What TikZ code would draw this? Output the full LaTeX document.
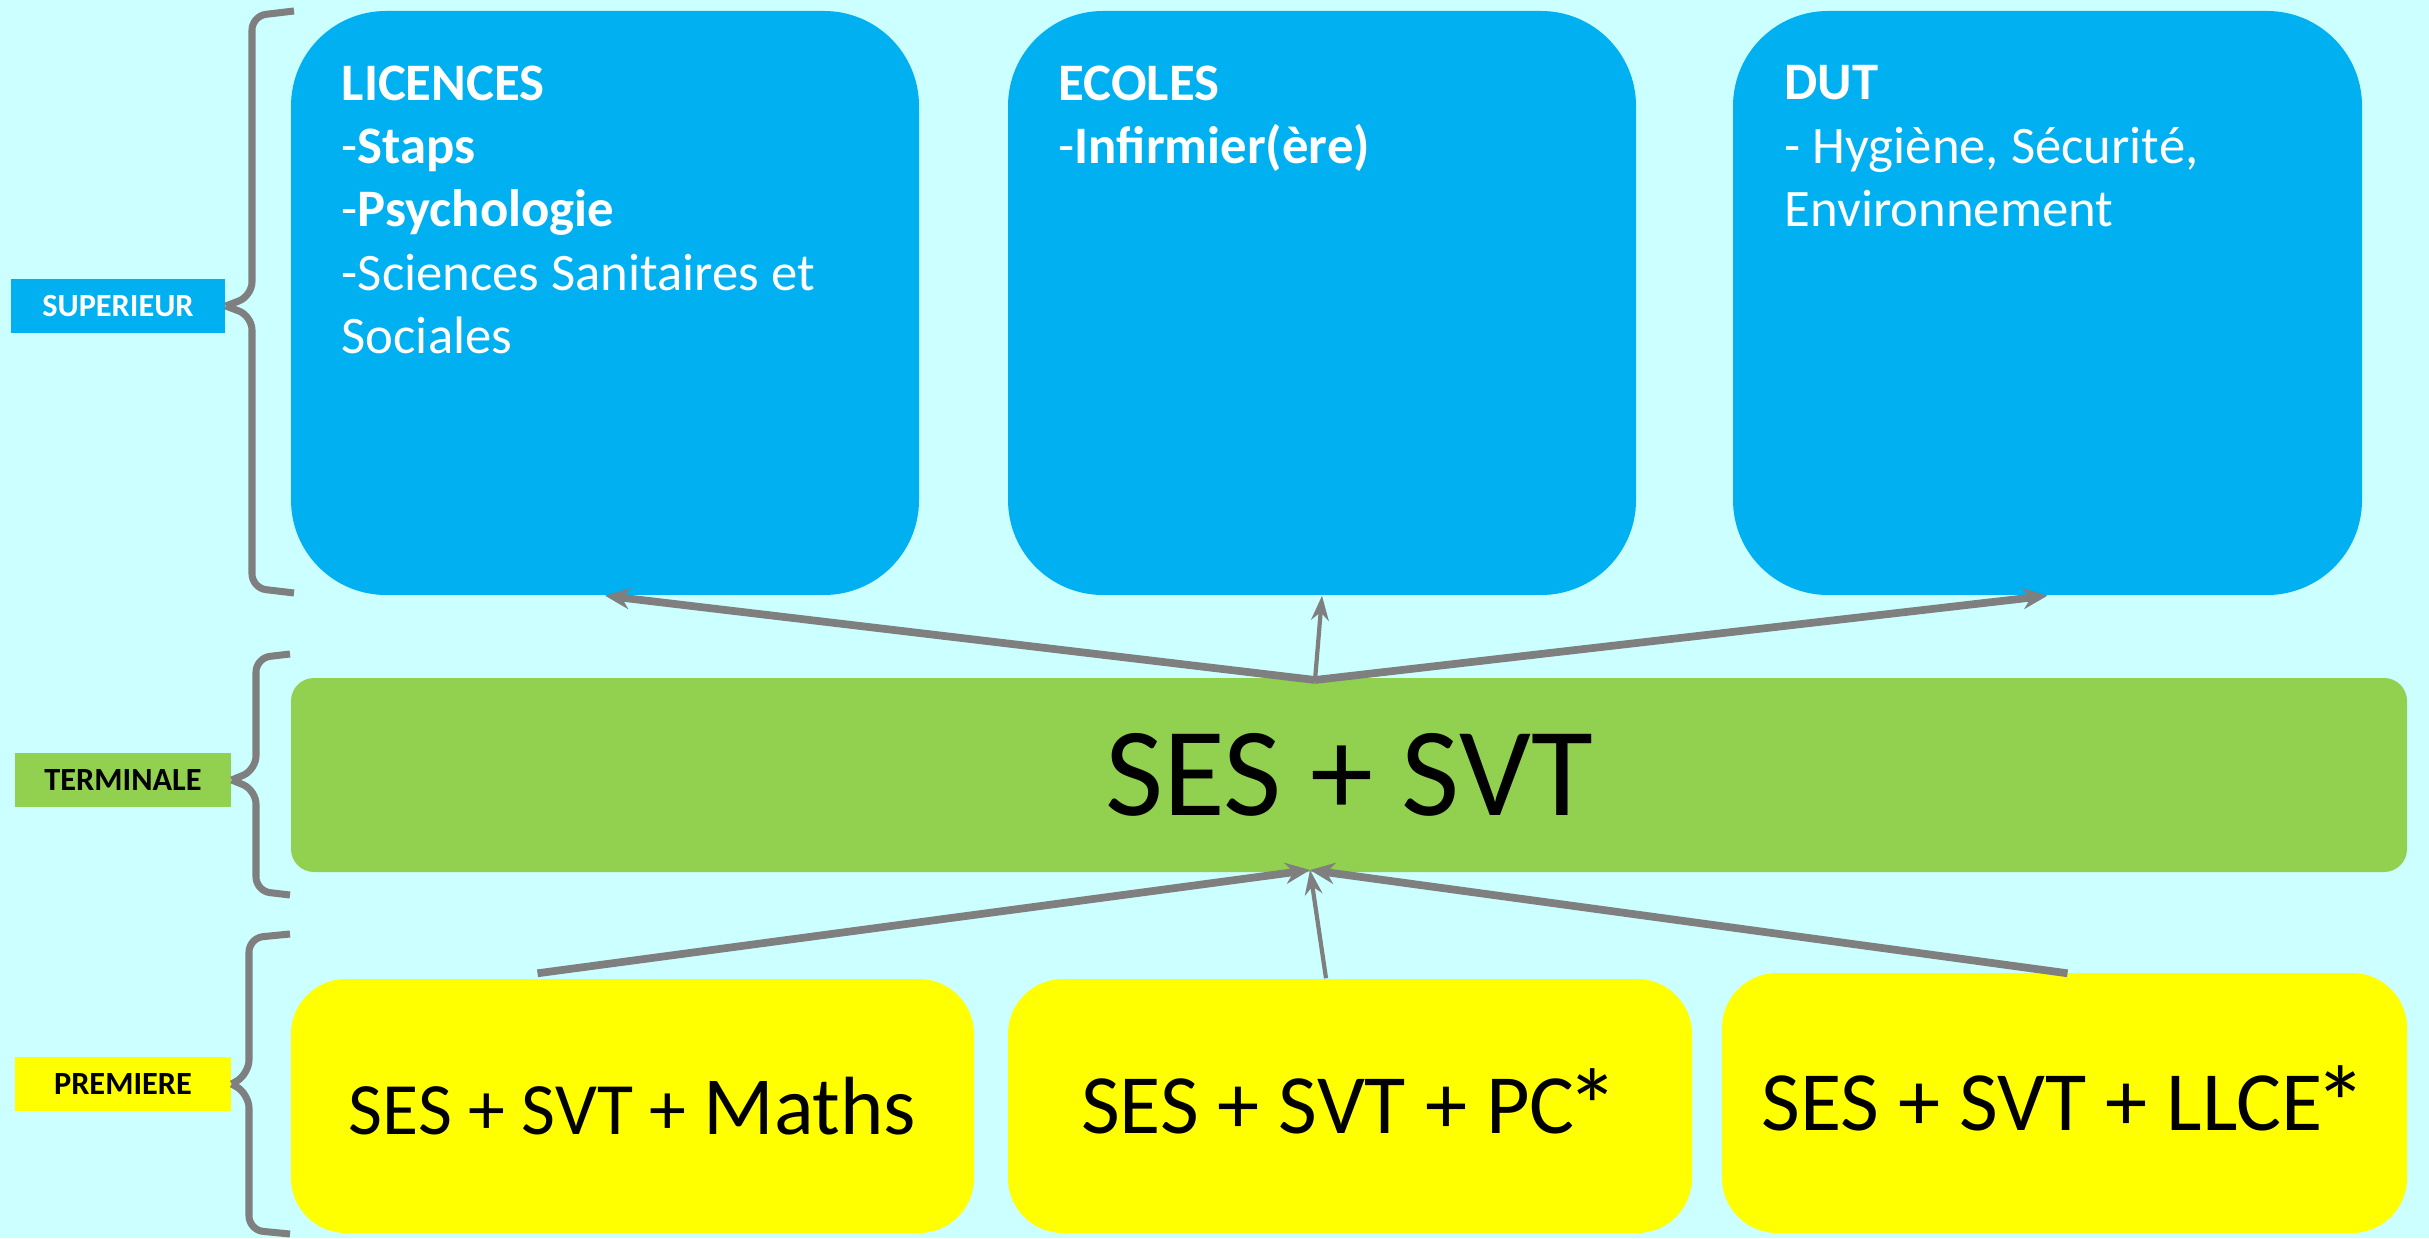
\documentclass[tikz,border=0pt]{standalone}
\usepackage{fontspec}
\setmainfont{Carlito}
\usetikzlibrary{arrows.meta,positioning,calc}

\definecolor{bgcyan}{HTML}{CCFFFF}
\definecolor{supblue}{HTML}{00B0F0}
\definecolor{termgreen}{HTML}{92D050}
\definecolor{premyellow}{HTML}{FFFF00}
\definecolor{linegray}{HTML}{7F7F7F}

\newcommand{\optstar}{\kern-0.1em\raisebox{-0.12em}{\fontsize{30}{30}\selectfont*}}

\tikzset{
  level/.style={fill=#1, minimum width=2.16cm, minimum height=0.54cm, inner sep=0pt,
    font=\bfseries\fontsize{9.2}{11}\selectfont},
  outcome/.style={fill=supblue, rounded corners=0.95cm, minimum width=6.28cm,
    minimum height=5.84cm, inner sep=0pt},
  outtext/.style={anchor=north west, inner sep=0pt, align=left, text=white,
    font=\fontsize{15}{18}\selectfont},
  choice/.style={fill=premyellow, rounded corners=0.55cm, minimum width=6.84cm,
    minimum height=2.54cm, inner sep=0pt, font=\fontsize{24}{28}\selectfont},
  bracket/.style={draw=linegray, line width=2pt, rounded corners=4pt},
  flow/.style={draw=linegray, line width=2.2pt, -{Stealth[length=7pt,width=6pt]}},
  thinflow/.style={draw=linegray, line width=1.2pt, -{Stealth[length=7pt,width=5pt]}}
}

\begin{document}
\begin{tikzpicture}
\useasboundingbox (0,0) rectangle (24.29,12.38);
\fill[bgcyan] (0,0) rectangle (24.29,12.38);

% superieur
\node[outcome] (lic) at (6.05,9.35) {};
\node[outcome] (eco) at (13.22,9.35) {};
\node[outcome, minimum width=6.29cm] (dut) at (20.475,9.35) {};

\node[outtext] (lictxt) at (3.41,11.73) {\textbf{LICENCES}\\-\textbf{Staps}\\-\textbf{Psychologie}\\-Sciences Sanitaires et\\Sociales};
\node[outtext] (ecotxt) at (10.58,11.73) {\textbf{ECOLES}\\-\textbf{Infirmier(ère)}};
\node[outtext] (duttxt) at (17.84,11.73) {\textbf{DUT}\\- Hygiène, Sécurité,\\Environnement};

% terminale
\node[fill=termgreen, rounded corners=0.23cm, minimum width=21.16cm, minimum height=1.94cm,
  inner sep=0pt, font=\fontsize{36}{40}\selectfont] (ter) at (13.49,4.63) {SES + SVT};

% premiere
\node[choice, minimum width=6.83cm] (pr1) at (6.325,1.32) {\fontsize{21}{26}\selectfont SES + SVT + {\fontsize{23.5}{28}\selectfont Maths}};
\node[choice] (pr2) at (13.50,1.32) {SES + SVT + PC\optstar};
\node[choice, minimum width=6.85cm, minimum height=2.60cm] (pr3) at (20.645,1.35) {SES + SVT + LLCE\optstar};

% levels
\node[level=supblue, text=white, minimum width=2.14cm] (sup) at (1.18,9.32) {SUPERIEUR};
\node[level=termgreen] (term) at (1.23,4.58) {TERMINALE};
\node[level=premyellow] (prem) at (1.23,1.54) {PREMIERE};

\draw[bracket] (sup.east) -- (2.52,9.42) -- (2.52,12.22) -- (2.94,12.27);
\draw[bracket] (sup.east) -- (2.52,9.22) -- (2.52,6.50) -- (2.94,6.45);
\draw[bracket] (term.east) -- (2.56,4.68) -- (2.56,5.80) -- (2.90,5.84);
\draw[bracket] (term.east) -- (2.56,4.48) -- (2.56,3.47) -- (2.90,3.43);
\draw[bracket] (prem.east) -- (2.49,1.64) -- (2.49,3.00) -- (2.90,3.04);
\draw[bracket] (prem.east) -- (2.49,1.44) -- (2.49,0.08) -- (2.90,0.04);

% arrows
\coordinate (tertop) at (13.15,5.58);
\coordinate (terbot) at (13.10,3.68);
\draw[flow] (tertop) -- (lic.south);
\draw[thinflow] (tertop) -- (eco.south);
\draw[flow] (tertop) -- (dut.south);

\draw[flow] ([xshift=-0.95cm,yshift=0.05cm]pr1.north) -- (terbot);
\draw[thinflow] ([xshift=-0.24cm]pr2.north) -- (terbot);
\draw[flow] ([xshift=0.03cm,yshift=-0.01cm]pr3.north) -- (terbot);
\end{tikzpicture}
\end{document}
